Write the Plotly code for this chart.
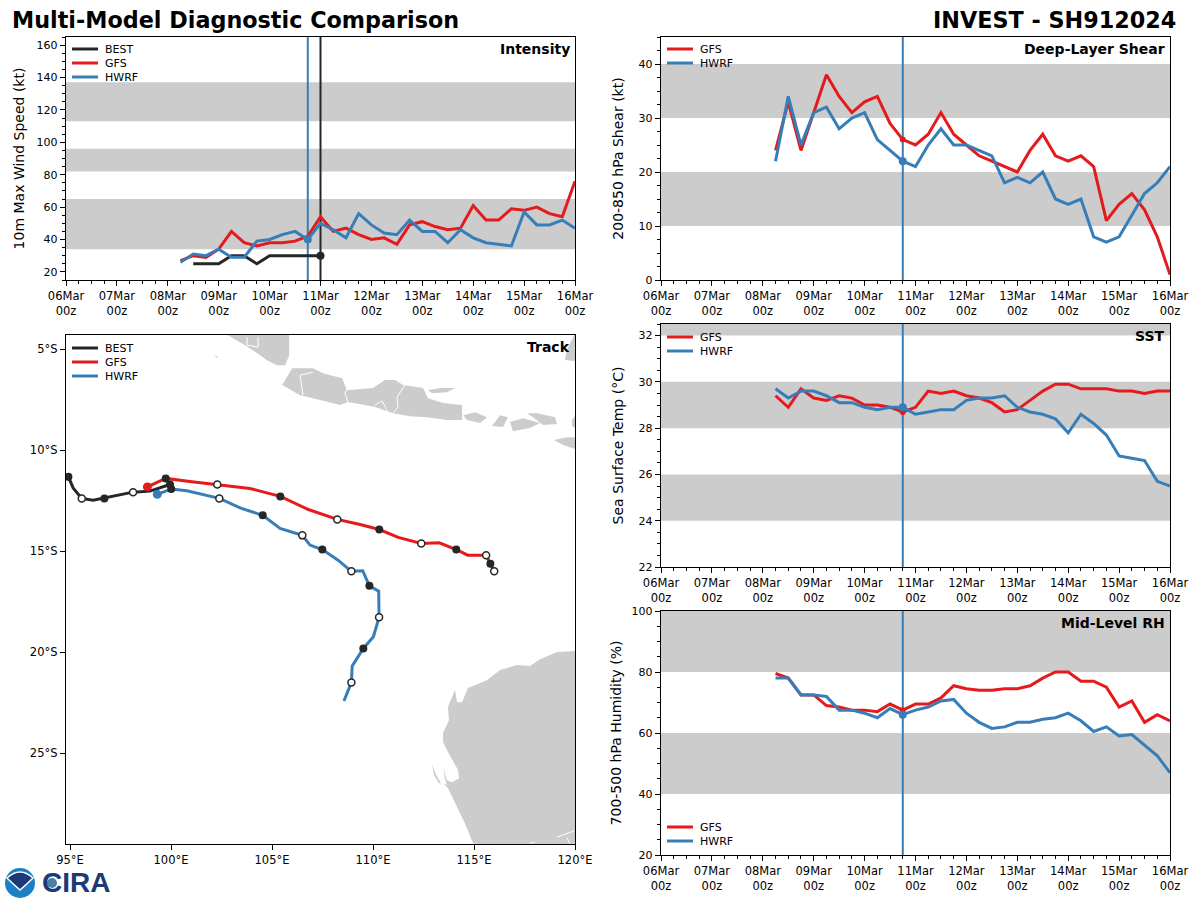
import pandas as pd
import plotly.graph_objects as go

W, H = 1200, 900
RED = "#e41a1c"
BLUE = "#377eb8"
DARK = "#262626"
GRAY = "#cccccc"
FONT = "DejaVu Sans"

# panel boxes in pixels: left, top, right, bottom
BOX_INT = (66, 37, 575, 280)
BOX_SHR = (661, 37, 1170, 280)
BOX_TRK = (66, 335, 575, 844)
BOX_SST = (661, 324, 1170, 567)
BOX_RH = (661, 611, 1170, 855)

# 6 hourly fields, 08Mar 06z to 16Mar 00z
times = pd.date_range("2024-03-08 06:00", periods=32, freq="6h")
best_times = pd.date_range("2024-03-08 12:00", periods=11, freq="6h")
day_ticks = pd.date_range("2024-03-06", periods=11, freq="D")
init_time = "2024-03-10 18:00"
best_time = "2024-03-11 00:00"

best_vmax = [25, 25, 25, 30, 30, 25, 30, 30, 30, 30, 30]
gfs_vmax = [27, 30, 29, 34, 45, 38, 36, 38, 38, 39, 42, 54, 45, 47, 43, 40,
            41, 37, 49, 51, 48, 46, 47, 61, 52, 52, 59, 58, 60, 56, 54, 76]
hwrf_vmax = [26, 31, 30, 34, 29, 29, 39, 40, 43, 45, 40, 50, 46, 41, 56, 49,
             44, 43, 52, 45, 45, 38, 46, 41, 38, 37, 36, 57, 49, 49, 52, 47]

gfs_shear = [24, 33, 24, 31, 38, 34, 31, 33, 34, 29, 26, 25, 27, 31, 27, 25,
             23, 22, 21, 20, 24, 27, 23, 22, 23, 21, 11, 14, 16, 13, 8, 1]
hwrf_shear = [22, 34, 25, 31, 32, 28, 30, 31, 26, 24, 22, 21, 25, 28, 25, 25,
              24, 23, 18, 19, 18, 20, 15, 14, 15, 8, 7, 8, 12, 16, 18, 21]

gfs_sst = [29.4, 28.9, 29.7, 29.3, 29.2, 29.4, 29.3, 29.0, 29.0, 28.9, 28.7, 28.9,
           29.6, 29.5, 29.6, 29.4, 29.3, 29.1, 28.7, 28.8, 29.2, 29.6, 29.9, 29.9,
           29.7, 29.7, 29.7, 29.6, 29.6, 29.5, 29.6, 29.6]
hwrf_sst = [29.7, 29.3, 29.6, 29.6, 29.4, 29.1, 29.1, 28.9, 28.8, 28.9, 28.9, 28.6,
            28.7, 28.8, 28.8, 29.2, 29.3, 29.3, 29.4, 28.9, 28.7, 28.6, 28.4, 27.8,
            28.6, 28.2, 27.7, 26.8, 26.7, 26.6, 25.7, 25.5]

gfs_rh = [79.5, 78, 72.5, 72.5, 69, 68.5, 67.5, 67.5, 67, 69.5, 67.5, 69.5, 69.5,
          71.5, 75.5, 74.5, 74, 74, 74.5, 74.5, 75.5, 78, 80, 80, 77, 77, 75, 68.5,
          70.5, 63.5, 66, 64]
hwrf_rh = [78, 78, 72.5, 72.5, 72, 67.5, 67.5, 66.5, 65, 68, 66, 67.5, 68.5, 70.5,
           71, 66.5, 63.5, 61.5, 62, 63.5, 63.5, 64.5, 65, 66.5, 64, 60.5, 62, 59,
           59.5, 56, 52.5, 47]

# tracks, 6 hourly positions
best_lon = [99.95, 98.96, 98.12, 97.38, 96.7, 96.14, 95.58, 95.16, 94.92]
best_lat = [-11.7, -12.03, -12.08, -12.23, -12.39, -12.48, -12.39, -11.88, -11.32]
gfs_lon = [98.83, 99.74, 101.03, 102.29, 103.91, 105.41, 106.8, 108.23, 109.36, 110.31,
           111.25, 112.39, 113.28, 114.12, 114.69, 115.6, 115.7, 115.81, 115.9, 116.0]
gfs_lat = [-11.82, -11.4, -11.57, -11.7, -11.9, -12.29, -12.94, -13.43, -13.68, -13.93,
           -14.32, -14.62, -14.59, -14.92, -15.2, -15.21, -15.4, -15.63, -15.8, -16.0]
hwrf_lon = [99.32, 100.01, 100.78, 102.39, 103.42, 104.54, 105.4, 106.5, 106.88, 107.49,
            108.27, 108.93, 109.49, 109.82, 110.28, 110.3, 110.02, 109.52, 108.97, 108.93,
            108.56]
hwrf_lat = [-12.19, -11.92, -12.01, -12.39, -12.86, -13.23, -13.88, -14.22, -14.7, -14.92,
            -15.45, -16.0, -15.97, -16.72, -16.98, -18.27, -19.24, -19.82, -20.68, -21.5,
            -22.42]

# land outlines (lon, lat)
sumatra_lon = [102.8, 103.8, 104.2, 104.75, 105.25, 105.65, 105.85, 105.85]
sumatra_lat = [-4.3, -4.9, -5.15, -5.55, -5.8, -5.8, -5.3, -4.3]
java_lon = [105.5, 106.0, 107.03, 107.52, 108.47, 108.71, 110.0, 110.59, 111.09, 111.49, 112.48,
            112.72, 113.47, 114.41, 114.41, 113.66, 112.67, 111.83, 110.99, 110.1, 108.76, 108.37,
            107.38, 106.39]
java_lat = [-6.78, -5.94, -5.94, -6.19, -6.44, -7.03, -6.93, -6.53, -6.53, -6.78, -6.93,
            -7.43, -7.67, -7.77, -8.51, -8.51, -8.37, -8.32, -8.17, -7.87, -7.62, -7.77,
            -7.52, -7.28]
madura_lon = [112.72, 113.32, 114.06, 113.66, 112.92]
madura_lat = [-7.03, -6.93, -6.93, -7.13, -7.18]
bali_lon = [114.46, 115.05, 115.64, 115.3, 114.65]
bali_lat = [-8.27, -8.12, -8.37, -8.66, -8.51]
lombok_lon = [115.89, 116.29, 116.68, 116.44]
lombok_lat = [-8.81, -8.27, -8.37, -8.86]
sumbawa_lon = [116.78, 117.43, 118.27, 117.77, 116.93]
sumbawa_lat = [-8.61, -8.42, -8.66, -8.91, -9.06]
sumbawa2_lon = [117.62, 118.12, 119.01, 119.11, 118.42, 117.92]
sumbawa2_lat = [-8.17, -8.17, -8.37, -8.71, -8.76, -8.37]
flores_lon = [119.85, 120.0, 120.0, 119.85]
flores_lat = [-8.51, -8.32, -8.91, -8.81]
sumba_lon = [118.96, 119.6, 120.0, 120.0, 119.41]
sumba_lat = [-9.5, -9.36, -9.36, -9.95, -9.75]
sulawesi_lon = [119.6, 119.95, 120.0, 120.0, 119.5]
sulawesi_lat = [-5.05, -4.3, -4.3, -5.59, -5.54]
speck_lon = [102.15, 102.3, 102.3]
speck_lat = [-5.3, -5.35, -5.45]
aus_lon = [120.0, 119.11, 118.27, 117.77, 117.13, 116.29, 115.64, 114.7, 114.41, 114.16, 114.06,
           113.71, 113.76, 113.47, 113.47, 113.71, 114.21, 114.26, 113.91, 113.66, 113.47, 113.56,
           113.66, 113.47, 113.71, 114.16, 114.55, 114.95, 115.0, 120.0]
aus_lat = [-19.95, -20.0, -20.35, -20.69, -20.64, -20.89, -21.39, -21.78, -22.48, -22.48, -21.88,
           -22.72, -23.37, -24.01, -24.46, -24.95, -25.84, -26.24, -26.44, -26.34, -25.69, -26.24,
           -26.58, -26.49, -26.73, -27.67, -28.47, -29.46, -29.5, -29.5]
dirk_lon = [112.92, 113.12, 113.37, 113.27, 113.02]
dirk_lat = [-25.54, -26.09, -26.49, -26.49, -26.09]

land = [(sumatra_lon, sumatra_lat), (java_lon, java_lat), (madura_lon, madura_lat),
        (bali_lon, bali_lat), (lombok_lon, lombok_lat), (sumbawa_lon, sumbawa_lat),
        (sumbawa2_lon, sumbawa2_lat), (flores_lon, flores_lat), (sumba_lon, sumba_lat),
        (sulawesi_lon, sulawesi_lat), (speck_lon, speck_lat), (aus_lon, aus_lat),
        (dirk_lon, dirk_lat)]

# white province borders and inlets
borders = [([103.76, 103.76, 104.31, 104.31], [-4.41, -4.8, -4.9, -4.41]),
           ([107.03, 106.39, 106.53], [-6.14, -6.29, -7.28]),
           ([108.76, 108.61, 108.76], [-6.88, -7.18, -7.62]),
           ([110.1, 110.45, 110.74], [-7.77, -7.57, -8.12]),
           ([111.58, 111.19, 111.24, 110.99], [-6.78, -7.38, -7.87, -8.17]),
           ([119.11, 119.41, 119.95], [-29.16, -29.06, -28.86]),
           ([119.6, 119.75], [-29.2, -29.5]),
           ([117.77, 118.0], [-29.46, -29.4])]

day_labels = [d.strftime("%d%b") + "<br>00z" for d in day_ticks]
lon_ticks = [95, 100, 105, 110, 115, 120]
lon_labels = ["95°E", "100°E", "105°E", "110°E", "115°E", "120°E"]
lat_ticks = [-5, -10, -15, -20, -25]
lat_labels = ["5°S", "10°S", "15°S", "20°S", "25°S"]

fig = go.Figure()


def dom(box):
    left, top, right, bottom = box
    return [left / W, right / W], [1 - bottom / H, 1 - top / H]


def time_axis(name, box):
    xd, yd = dom(box)
    fig.layout[name] = dict(
        domain=xd, type="date", range=["2024-03-06", "2024-03-16"], automargin=False,
        tickmode="array", tickvals=list(day_ticks), ticktext=day_labels,
        tickangle=0, ticks="outside", ticklen=5, tickcolor="black",
        tickfont=dict(family=FONT, size=11.5, color="black"),
        minor=dict(ticks="outside", ticklen=2.5, dtick=21600000, tick0="2024-03-06",
                   tickcolor="black", showgrid=False),
        showline=True, mirror=True, linecolor="black", linewidth=1.4,
        showgrid=False, zeroline=False,
    )


def value_axis(name, box, rng, dtick, minor, title, standoff):
    xd, yd = dom(box)
    fig.layout[name] = dict(
        domain=yd, range=rng, dtick=dtick, automargin=False,
        ticks="outside", ticklen=5, tickcolor="black",
        tickfont=dict(family=FONT, size=11, color="black"),
        minor=dict(ticks="outside", ticklen=2.5, dtick=minor, tickcolor="black", showgrid=False),
        showline=True, mirror=True, linecolor="black", linewidth=1.4,
        showgrid=False, zeroline=False,
        title=dict(text=title, font=dict(family=FONT, size=14, color="black"), standoff=standoff),
    )


def band(n, y0, y1):
    fig.add_shape(type="rect", xref=f"x{n} domain", yref=f"y{n}", x0=0, x1=1, y0=y0, y1=y1,
                  fillcolor=GRAY, line_width=0, layer="below")


def vline(n, x, color):
    fig.add_shape(type="line", xref=f"x{n}", yref=f"y{n} domain", x0=x, x1=x, y0=0, y1=1,
                  line=dict(color=color, width=2), layer="below")


def line(n, x, y, color, name):
    fig.add_trace(go.Scatter(x=x, y=y, mode="lines", name=name, xaxis=f"x{n}", yaxis=f"y{n}",
                             line=dict(color=color, width=3), showlegend=False))


def dot(n, x, y, color, size=8):
    fig.add_trace(go.Scatter(x=x, y=y, mode="markers", xaxis=f"x{n}", yaxis=f"y{n}",
                             marker=dict(color=color, size=size, line_width=0),
                             showlegend=False, hoverinfo="skip"))


def open_dot(n, x, y):
    fig.add_trace(go.Scatter(x=x, y=y, mode="markers", xaxis=f"x{n}", yaxis=f"y{n}",
                             marker=dict(color="white", size=7, line=dict(color=DARK, width=1.5)),
                             showlegend=False, hoverinfo="skip"))


def panel_label(box, text):
    left, top, right, bottom = box
    fig.add_annotation(xref="paper", yref="paper", x=(right - 3) / W, y=1 - (top + 12) / H,
                       text=f"<b>{text}</b>", showarrow=False, xanchor="right", yanchor="middle",
                       font=dict(family=FONT, size=14, color="black"))


def key(box, entries, top_y):
    # small legend, rows 14 px apart like the original
    left = box[0]
    for i, (label, color) in enumerate(entries):
        py = top_y + i * 14
        fig.add_shape(type="line", xref="paper", yref="paper",
                      x0=(left + 6) / W, x1=(left + 32) / W, y0=1 - py / H, y1=1 - py / H,
                      line=dict(color=color, width=3))
        fig.add_annotation(xref="paper", yref="paper", x=(left + 37) / W, y=1 - (py + 0.5) / H,
                           text=label, showarrow=False, xanchor="left", yanchor="middle",
                           font=dict(family=FONT, size=11, color="black"))


# Intensity
time_axis("xaxis", BOX_INT)
value_axis("yaxis", BOX_INT, [15, 165], 20, 5, "10m Max Wind Speed (kt)", 8)
for y0, y1 in [(34, 65), (82, 96), (113, 137)]:
    band("", y0, y1)
vline("", init_time, BLUE)
vline("", best_time, DARK)
line("", best_times, best_vmax, DARK, "BEST")
line("", times, gfs_vmax, RED, "GFS")
line("", times, hwrf_vmax, BLUE, "HWRF")
dot("", [best_time], [best_vmax[-1]], DARK)
dot("", [init_time], [hwrf_vmax[10]], BLUE)
panel_label(BOX_INT, "Intensity")
key(BOX_INT, [("BEST", DARK), ("GFS", RED), ("HWRF", BLUE)], 49)

# Deep-layer shear
time_axis("xaxis2", BOX_SHR)
fig.layout.xaxis2.anchor = "y2"
value_axis("yaxis2", BOX_SHR, [0, 45], 10, 2.5, "200-850 hPa Shear (kt)", 11)
fig.layout.yaxis2.anchor = "x2"
for y0, y1 in [(10, 20), (30, 40)]:
    band(2, y0, y1)
vline(2, init_time, BLUE)
line(2, times, gfs_shear, RED, "GFS")
line(2, times, hwrf_shear, BLUE, "HWRF")
dot(2, [init_time], [gfs_shear[10]], RED, 6)
dot(2, [init_time], [hwrf_shear[10]], BLUE)
panel_label(BOX_SHR, "Deep-Layer Shear")
key(BOX_SHR, [("GFS", RED), ("HWRF", BLUE)], 49)

# Track
xd, yd = dom(BOX_TRK)
fig.layout.xaxis3 = dict(domain=xd, anchor="y3", range=[94.8, 120], tickmode="array", automargin=False,
                         tickvals=lon_ticks, ticktext=lon_labels, ticks="outside", ticklen=5,
                         tickcolor="black", tickfont=dict(family=FONT, size=11.5, color="black"),
                         showline=True, mirror=True, linecolor="black", linewidth=1.4,
                         showgrid=False, zeroline=False)
fig.layout.yaxis3 = dict(domain=yd, anchor="x3", range=[-29.5, -4.3], tickmode="array", automargin=False,
                         tickvals=lat_ticks, ticktext=lat_labels, ticks="outside", ticklen=5,
                         tickcolor="black", tickfont=dict(family=FONT, size=11.5, color="black"),
                         showline=True, mirror=True, linecolor="black", linewidth=1.4,
                         showgrid=False, zeroline=False)
for lons, lats in land:
    path = "M " + " L ".join(f"{a} {b}" for a, b in zip(lons, lats)) + " Z"
    fig.add_shape(type="path", xref="x3", yref="y3", path=path, fillcolor=GRAY,
                  line_width=0, layer="below")
for lons, lats in borders:
    fig.add_trace(go.Scatter(x=lons, y=lats, mode="lines", line=dict(color="white", width=1),
                             xaxis="x3", yaxis="y3", showlegend=False, hoverinfo="skip"))
line(3, hwrf_lon, hwrf_lat, BLUE, "HWRF")
line(3, gfs_lon, gfs_lat, RED, "GFS")
line(3, best_lon, best_lat, DARK, "BEST")
dot(3, gfs_lon[:1], gfs_lat[:1], RED, 9)
dot(3, hwrf_lon[:1], hwrf_lat[:1], BLUE, 9)
# 00z positions filled, 12z open
dot(3, best_lon[0::4], best_lat[0::4], DARK)
open_dot(3, best_lon[2::4], best_lat[2::4])
dot(3, gfs_lon[1::4], gfs_lat[1::4], DARK)
open_dot(3, gfs_lon[3::4], gfs_lat[3::4])
dot(3, hwrf_lon[1::4], hwrf_lat[1::4], DARK)
open_dot(3, hwrf_lon[3::4], hwrf_lat[3::4])
panel_label(BOX_TRK, "Track")
key(BOX_TRK, [("BEST", DARK), ("GFS", RED), ("HWRF", BLUE)], 348)

# SST
time_axis("xaxis4", BOX_SST)
fig.layout.xaxis4.anchor = "y4"
value_axis("yaxis4", BOX_SST, [22, 32.5], 2, 0.5, "Sea Surface Temp (°C)", 11)
fig.layout.yaxis4.anchor = "x4"
for y0, y1 in [(24, 26), (28, 30), (32, 33)]:
    band(4, y0, y1)
vline(4, init_time, BLUE)
line(4, times, gfs_sst, RED, "GFS")
line(4, times, hwrf_sst, BLUE, "HWRF")
dot(4, [init_time], [gfs_sst[10]], RED, 6)
dot(4, [init_time], [hwrf_sst[10]], BLUE)
panel_label(BOX_SST, "SST")
key(BOX_SST, [("GFS", RED), ("HWRF", BLUE)], 337)

# Mid-level RH
time_axis("xaxis5", BOX_RH)
fig.layout.xaxis5.anchor = "y5"
value_axis("yaxis5", BOX_RH, [20, 100], 20, 5, "700-500 hPa Humidity (%)", 6)
fig.layout.yaxis5.anchor = "x5"
for y0, y1 in [(40, 60), (80, 100)]:
    band(5, y0, y1)
vline(5, init_time, BLUE)
line(5, times, gfs_rh, RED, "GFS")
line(5, times, hwrf_rh, BLUE, "HWRF")
dot(5, [init_time], [gfs_rh[10]], RED, 6)
dot(5, [init_time], [hwrf_rh[10]], BLUE)
panel_label(BOX_RH, "Mid-Level RH")
key(BOX_RH, [("GFS", RED), ("HWRF", BLUE)], 827)

# figure titles
fig.add_annotation(xref="paper", yref="paper", x=10 / W, y=1 - 20 / H, text="<b>Multi-Model Diagnostic Comparison</b>",
                   showarrow=False, xanchor="left", yanchor="middle", font=dict(family=FONT, size=22.3, color="black"))
fig.add_annotation(xref="paper", yref="paper", x=1178 / W, y=1 - 20 / H, text="<b>INVEST - SH912024</b>",
                   showarrow=False, xanchor="right", yanchor="middle", font=dict(family=FONT, size=22.3, color="black"))

# logo, drawn roughly
fig.add_shape(type="circle", xref="paper", yref="paper", x0=5 / W, x1=35 / W, y0=1 - 898 / H, y1=1 - 868 / H,
              fillcolor="#1b7fc4", line_width=0)
fig.add_shape(type="path", xref="paper", yref="paper",
              path=f"M {7/W} {1-878/H} Q {20/W} {1-866/H} {33/W} {1-878/H} Q {27/W} {1-884/H} {20/W} {1-890/H} Q {13/W} {1-884/H} {7/W} {1-878/H} Z",
              fillcolor="#1d3a78", line=dict(color="white", width=1.5))
fig.add_annotation(xref="paper", yref="paper", x=40 / W, y=1 - 882 / H, text="<b>CIRA</b>", showarrow=False,
                   xanchor="left", yanchor="middle", font=dict(family="Liberation Sans", size=28, color="#1d3a78"))
fig.add_shape(type="circle", xref="paper", yref="paper", x0=47 / W, x1=57 / W, y0=1 - 888 / H, y1=1 - 878 / H,
              fillcolor="#4d7fa8", line_width=0)

fig.update_layout(width=W, height=H, margin=dict(l=0, r=0, t=0, b=0), autosize=False,
                  paper_bgcolor="white", plot_bgcolor="white", showlegend=False,
                  font=dict(family=FONT))

# page default body margin would shift the whole figure
fig.write_html("out.html", config={"displayModeBar": False},
               post_script="document.body.style.margin='0';")
